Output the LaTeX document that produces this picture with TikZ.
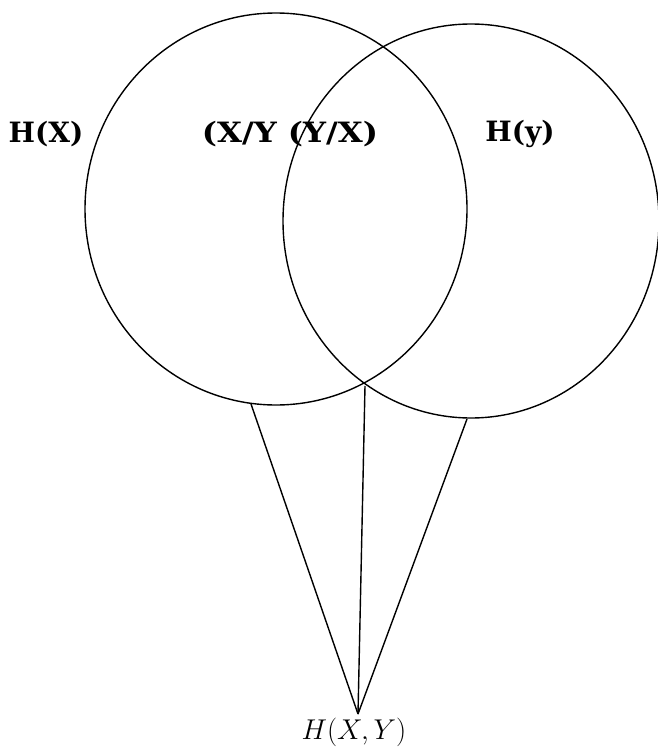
\documentclass[tikz,border=0pt]{standalone}
\usepackage{fontspec}
\newfontfamily\labfont{DejaVu Serif}
\begin{document}
\begin{tikzpicture}[x=1pt,y=-1pt,
  circ/.style={draw=black,line width=1.4pt},
  conn/.style={draw=black,line width=1.4pt},
  lab/.style={font=\labfont\bfseries\fontsize{28}{32}\selectfont,inner sep=0pt},
  mlab/.style={font=\fontsize{24}{28}\selectfont,inner sep=0pt}]
\useasboundingbox (0,0) rectangle (658,749);
\fill[white] (0,0) rectangle (658,749);
\draw[circ] (276,209) ellipse [x radius=191, y radius=196];
\draw[circ] (471,221) ellipse [x radius=188, y radius=197];
\node[lab] (hx) at (46,134) {H(X)};
\node[lab] (mid) at (290,134) {\scalebox{1.15}[1]{(X/Y (Y/X)}};
\node[lab] (hy) at (520,134) {H(y)};
\coordinate (a) at (251,404);
\coordinate (b) at (365,386);
\coordinate (c) at (467,419);
\coordinate (apex) at (358,714);
\node[mlab,anchor=north] (hxy) at (354,718) {\scalebox{1.15}{$H(X,Y)$}};
\draw[conn] (a) -- (apex);
\draw[conn] (b) -- (apex);
\draw[conn] (c) -- (apex);
\end{tikzpicture}
\end{document}
